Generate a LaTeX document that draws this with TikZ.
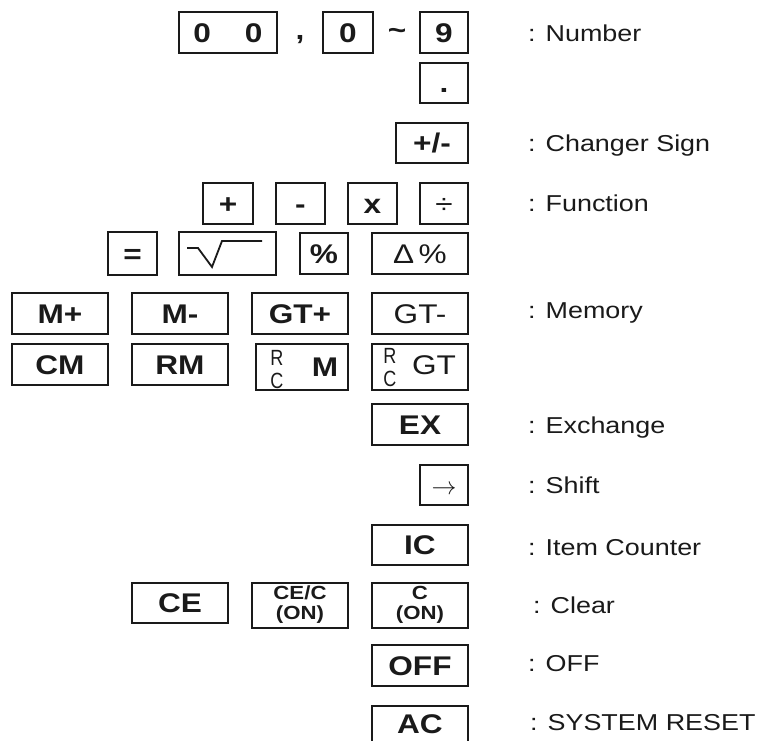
\documentclass[tikz,border=0pt]{standalone}
\usepackage{fontspec}
\setmainfont{Liberation Sans}[FakeStretch=1.17]
\definecolor{ink}{HTML}{1A1A1A}
\newcommand\keyb[6]{\node[key, minimum width={(#4-#2)*1pt}, minimum height={(#5-#3)*1pt}] (#1) at ({(#2+#4)/2},{(#3+#5)/2}) {#6};}
\begin{document}
\begin{tikzpicture}[x=1pt,y=-1pt,
  key/.style={draw=ink, line width=1.8pt, inner sep=0pt, text=ink, text height=19.3pt, text depth=0pt, font=\fontsize{27}{27}\selectfont\bfseries},
  small/.style={inner sep=0pt, text=ink, font=\fontsize{19}{19}\selectfont\bfseries},
  rc/.style={inner sep=0pt, text=ink, font=\fontsize{22}{22}\selectfont},
  lbl/.style={anchor=west, inner sep=0pt, text=ink, text height=16.5pt, text depth=0pt, font=\fontsize{23}{23}\selectfont}]
\useasboundingbox (0,0) rectangle (758,741);
\clip (0,0) rectangle (758,741);
% Number row
\keyb{kzz}{179}{12}{277}{53}{0\hspace{34pt}0}
\node[inner sep=0pt, anchor=base, text=ink, font=\fontsize{27}{27}\selectfont\bfseries] (comma) at (300,40) {,};
\keyb{kzero}{323}{12}{373}{53}{0}
\node[inner sep=0pt, anchor=base, text=ink, font=\fontsize{27}{27}\selectfont\bfseries] (tilde) at (397,40) {\textasciitilde};
\keyb{knine}{420}{12}{468}{53}{9}
\keyb{kdot}{420}{63}{468}{103}{.}
% sign
\keyb{kpm}{396}{123}{468}{163}{+/-}
% functions
\keyb{kplus}{203}{183}{253}{224}{+}
\keyb{kminus}{276}{183}{325}{224}{-}
\keyb{kx}{348}{183}{397}{224}{x}
\keyb{kdiv}{420}{183}{468}{224}{\mdseries ÷}
\keyb{keq}{108}{232}{157}{275}{=}
\keyb{ksqrt}{179}{232}{276}{275}{}
\draw[ink, line width=1.8pt, line join=miter] (187,248) -- (198,248) -- (212,267) -- (222,241) -- (262,241);
\keyb{kpct}{300}{233}{348}{274}{\%}
\keyb{kdpct}{372}{233}{468}{274}{\mdseries Δ\,\%}
% memory
\keyb{kMp}{12}{293}{108}{334}{M+}
\keyb{kMm}{132}{293}{228}{334}{M-}
\keyb{kGTp}{252}{293}{348}{334}{GT+}
\keyb{kGTm}{372}{293}{468}{334}{\mdseries GT-}
\keyb{kCM}{12}{344}{108}{385}{CM}
\keyb{kRM}{132}{344}{228}{385}{RM}
\keyb{kRCM}{256}{344}{348}{390}{}
\node[rc] (rcmR) at (277,358) {\scalebox{0.7}[1]{R}};
\node[rc] (rcmC) at (277,381) {\scalebox{0.7}[1]{C}};
\node[inner sep=0pt, text=ink, font=\fontsize{27}{27}\selectfont\bfseries] (rcmM) at (325,367) {M};
\keyb{kRCGT}{372}{344}{468}{390}{}
\node[rc] (rcgR) at (390,356) {\scalebox{0.7}[1]{R}};
\node[rc] (rcgC) at (390,379) {\scalebox{0.7}[1]{C}};
\node[inner sep=0pt, text=ink, font=\fontsize{27}{27}\selectfont] (rcgGT) at (434,365) {GT};
% others
\keyb{kEX}{372}{404}{468}{445}{EX}
\keyb{kshift}{420}{465}{468}{505}{\mdseries$\rightarrow$}
\keyb{kIC}{372}{525}{468}{565}{IC}
\keyb{kCE}{132}{583}{228}{623}{CE}
\keyb{kCEC}{252}{583}{348}{628}{}
\node[small] (cecA) at (300,593) {CE/C};
\node[small] (cecB) at (300,615) {(ON)};
\keyb{kC}{372}{583}{468}{628}{}
\node[small] (cA) at (420,593) {C};
\node[small] (cB) at (420,615) {(ON)};
\keyb{kOFF}{372}{645}{468}{686}{OFF}
\keyb{kAC}{372}{706}{468}{760}{}
\node[inner sep=0pt, text=ink, text height=19.3pt, text depth=0pt, font=\fontsize{27}{27}\selectfont\bfseries] (acT) at (420,724) {AC};
% labels
\node[lbl] (lNum) at (528,33) {: Number};
\node[lbl] (lSign) at (528,143) {: Changer Sign};
\node[lbl] (lFun) at (528,203) {: Function};
\node[lbl] (lMem) at (528,310) {: Memory};
\node[lbl] (lEx) at (528,425) {: Exchange};
\node[lbl] (lShift) at (528,485) {: Shift};
\node[lbl] (lIC) at (528,547) {: Item Counter};
\node[lbl] (lClr) at (533,605) {: Clear};
\node[lbl] (lOff) at (528,663) {: OFF};
\node[lbl] (lRst) at (530,722) {: SYSTEM RESET};
\end{tikzpicture}
\end{document}
